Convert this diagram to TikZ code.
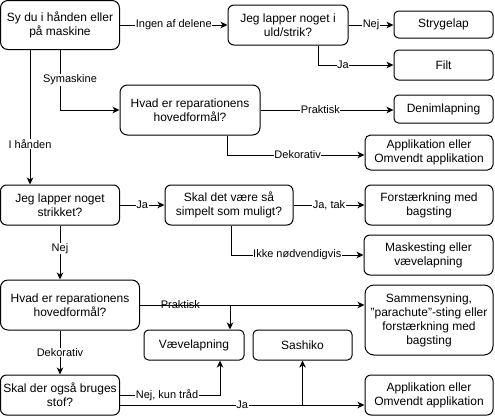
\documentclass[tikz,border=0pt]{standalone}
\usepackage{fontspec}
\setmainfont{Liberation Sans}
\usetikzlibrary{arrows.meta}
\begin{document}
\begin{tikzpicture}[x=1pt,y=-1pt,
  box/.style={draw=black, line width=1pt, rounded corners=6pt, align=center, inner sep=1pt,
    font=\fontsize{12}{14}\selectfont, fill=white},
  conn/.style={draw=black, line width=1pt, -{Stealth[length=7pt,width=6.5pt,inset=2pt]}},
  plain/.style={draw=black, line width=1pt},
  lbl/.style={fill=white, inner sep=0.5pt, font=\fontsize{11}{13}\selectfont}]
\useasboundingbox (0,0) rectangle (495,416);

% nodes
\node[box, minimum width=119pt, minimum height=49pt, rounded corners=7.5pt] (A) at (60,25) {Sy du i hånden eller\\på maskine};
\node[box, minimum width=120pt, minimum height=40pt] (B) at (288,25) {Jeg lapper noget i\\uld/strik?};
\node[box, minimum width=99pt, minimum height=27pt, rounded corners=4.5pt] (C) at (443.5,24.5) {Strygelap};
\node[box, minimum width=99pt, minimum height=30pt, rounded corners=4.5pt] (D) at (443.5,65) {Filt};
\node[box, minimum width=140pt, minimum height=50pt, rounded corners=7.5pt] (E) at (190,110) {Hvad er reparationens\\hovedformål?};
\node[box, minimum width=99pt, minimum height=28pt, rounded corners=4.5pt] (F) at (443.5,109) {Denimlapning};
\node[box, minimum width=128pt, minimum height=35pt, rounded corners=5.5pt] (G) at (429,152.5) {Applikation eller\\Omvendt applikation};
\node[box, minimum width=119pt, minimum height=40pt] (H) at (60,205) {Jeg lapper noget\\strikket?};
\node[box, minimum width=128pt, minimum height=40pt] (I) at (229,205) {Skal det være så\\simpelt som muligt?};
\node[box, minimum width=128pt, minimum height=40pt] (J) at (429,205) {Forstærkning med\\bagsting};
\node[box, minimum width=129pt, minimum height=40pt] (K) at (428.5,255) {Maskesting eller\\vævelapning};
\node[box, minimum width=139pt, minimum height=50pt, rounded corners=7.5pt] (L) at (70,305) {Hvad er reparationens\\hovedformål?};
\node[box, minimum width=100pt, minimum height=30pt, rounded corners=4.5pt] (M) at (194,345) {Vævelapning};
\node[box, minimum width=99pt, minimum height=30pt, rounded corners=4.5pt] (N) at (302.5,345) {Sashiko};
\node[box, minimum width=128pt, minimum height=70pt, rounded corners=9pt] (O) at (429,320) {Sammensyning,\\\symbol{34}parachute\symbol{34}-sting eller\\forstærkning med\\bagsting};
\node[box, minimum width=119pt, minimum height=40pt] (P) at (60,395) {Skal der også bruges\\stof?};
\node[box, minimum width=128pt, minimum height=40pt] (Q) at (429,395) {Applikation eller\\Omvendt applikation};

% connectors
\draw[conn] (A.east) -- node[lbl] {Ingen af delene} (B.west);
\draw[conn] (B.east) -- node[lbl] {Nej} (B.east -| C.west);
\draw[conn] ([xshift=30pt]B.south) |- node[lbl, pos=0.665] {Ja} (D.west);
\draw[conn] (A.south) |- node[lbl, pos=0.25, xshift=10pt] {Symaskine} (E.west);
\draw[conn] ([xshift=-30pt]A.south) -- node[lbl, pos=0.7] {I hånden} ([xshift=-30pt]H.north);
\draw[conn] (E.east) -- node[lbl, pos=0.45] {Praktisk} (E.east -| F.west);
\draw[conn] ([xshift=37pt]E.south) |- node[lbl, pos=0.757] {Dekorativ} ([yshift=-2.5pt]G.west);
\draw[conn] (H.east) -- node[lbl] {Ja} (I.west);
\draw[conn] (I.east) -- node[lbl] {Ja, tak} (J.west);
\draw[conn] ([xshift=2pt]I.south) |- node[lbl, pos=0.75] {Ikke nødvendigvis} (K.west);
\draw[conn] (H.south) -- node[lbl, pos=0.42] {Nej} (H.south |- L.north);
\draw[conn] (L.east) -- node[lbl, pos=0.18] {Praktisk} (L.east -| O.west);
\draw[conn] (L.east) -| ([xshift=36pt]M.north);
\draw[conn] ([xshift=-10pt]L.south) -- node[lbl] {Dekorativ} (P.north);
\draw[conn] (P.east) -| node[lbl, pos=0.235] {Nej, kun tråd} ([xshift=26pt]M.south);
\draw[conn] ([yshift=-10pt]P.east) -- node[lbl] {Ja} ([yshift=-10pt]P.east -| Q.west);
\draw[conn] ([yshift=-10pt]P.east -| N.south) -- (N.south);
\end{tikzpicture}
\end{document}
